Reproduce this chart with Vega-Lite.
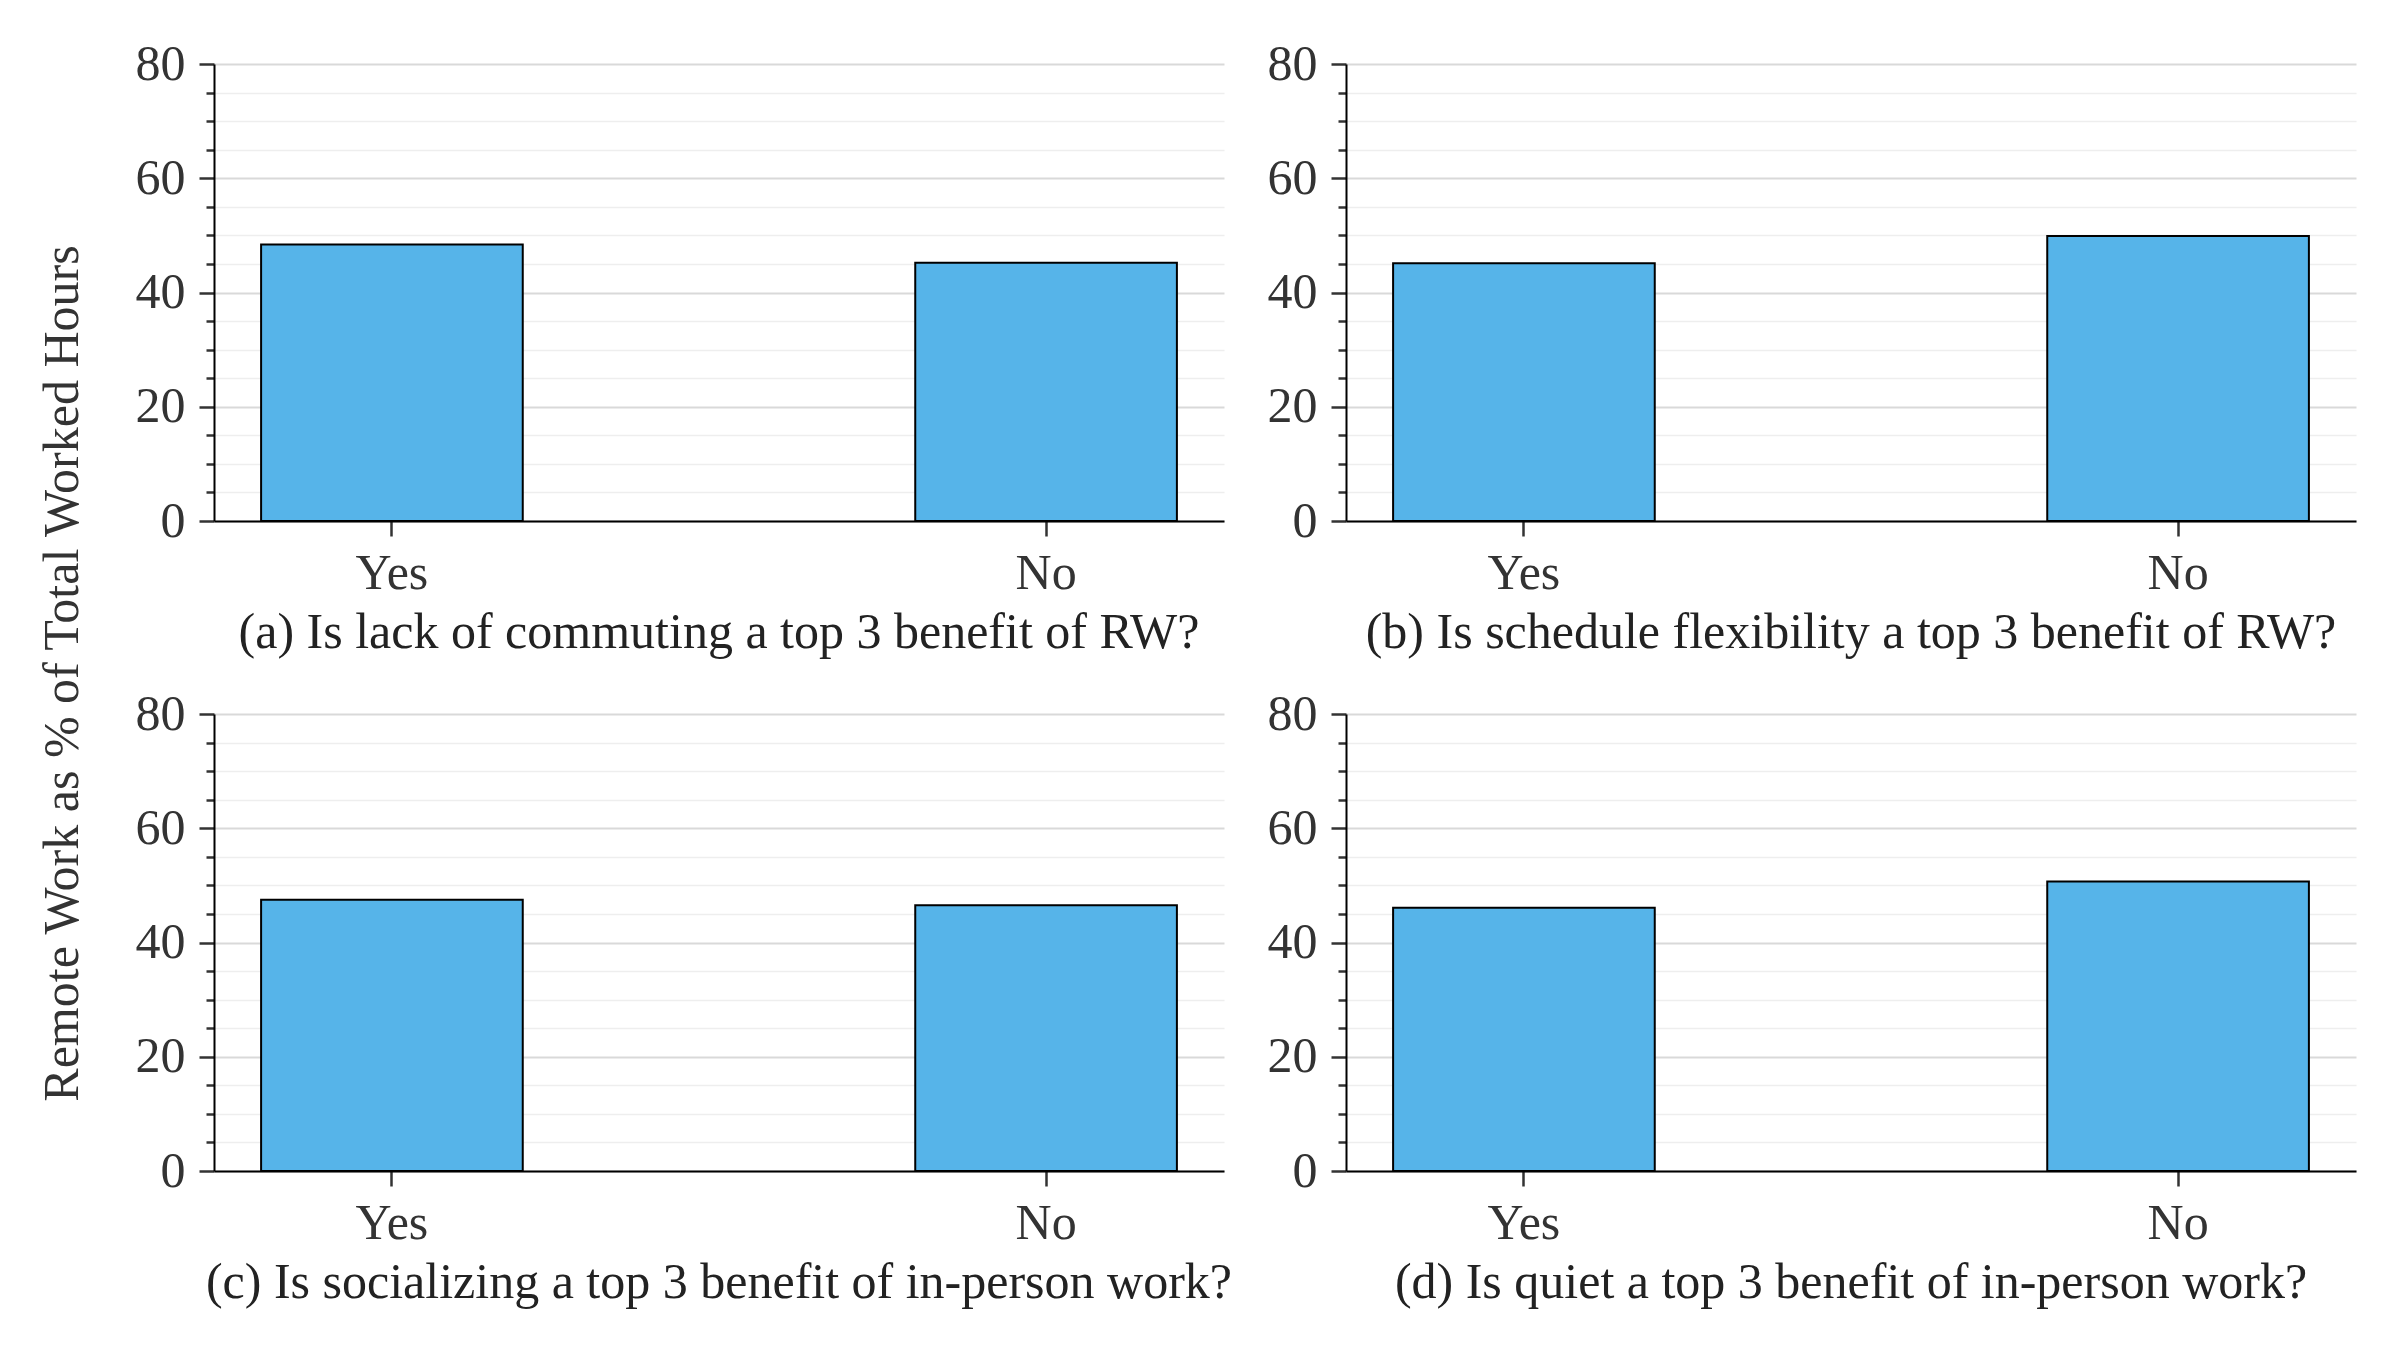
{
  "$schema": "https://vega.github.io/schema/vega-lite/v6.json",
  "background": "white",
  "padding": {"left": 37, "top": 39, "right": 30, "bottom": 30},
  "title": {
    "text": "Remote Work as % of Total Worked Hours",
    "orient": "left",
    "anchor": "middle",
    "fontSize": 50,
    "font": "Liberation Serif",
    "fontWeight": "normal",
    "color": "#333333",
    "offset": 47
  },
  "data": {
    "values": [
      {"panel": "a", "answer": "Yes", "pct": 48.4},
      {"panel": "a", "answer": "No", "pct": 45.2},
      {"panel": "b", "answer": "Yes", "pct": 45.1},
      {"panel": "b", "answer": "No", "pct": 49.9},
      {"panel": "c", "answer": "Yes", "pct": 47.5},
      {"panel": "c", "answer": "No", "pct": 46.5},
      {"panel": "d", "answer": "Yes", "pct": 46.1},
      {"panel": "d", "answer": "No", "pct": 50.7}
    ]
  },
  "columns": 2,
  "spacing": {"row": 31, "column": 34},
  "concat": [
    {
      "title": "(a) Is lack of commuting a top 3 benefit of RW?",
      "width": 1010,
      "height": 457,
      "transform": [{"filter": "datum.panel == 'a'"}],
      "mark": {"type": "bar", "color": "#56B4E9", "stroke": "black", "strokeWidth": 2},
      "encoding": {
        "x": {"field": "answer", "type": "nominal", "sort": ["Yes", "No"], "scale": {"paddingInner": 0.6, "paddingOuter": 0.072}},
        "y": {"field": "pct", "type": "quantitative", "scale": {"domain": [0, 80], "nice": false}}
      }
    },
    {
      "title": "(b) Is schedule flexibility a top 3 benefit of RW?",
      "width": 1010,
      "height": 457,
      "transform": [{"filter": "datum.panel == 'b'"}],
      "mark": {"type": "bar", "color": "#56B4E9", "stroke": "black", "strokeWidth": 2},
      "encoding": {
        "x": {"field": "answer", "type": "nominal", "sort": ["Yes", "No"], "scale": {"paddingInner": 0.6, "paddingOuter": 0.072}},
        "y": {"field": "pct", "type": "quantitative", "scale": {"domain": [0, 80], "nice": false}}
      }
    },
    {
      "title": "(c) Is socializing a top 3 benefit of in-person work?",
      "width": 1010,
      "height": 457,
      "transform": [{"filter": "datum.panel == 'c'"}],
      "mark": {"type": "bar", "color": "#56B4E9", "stroke": "black", "strokeWidth": 2},
      "encoding": {
        "x": {"field": "answer", "type": "nominal", "sort": ["Yes", "No"], "scale": {"paddingInner": 0.6, "paddingOuter": 0.072}},
        "y": {"field": "pct", "type": "quantitative", "scale": {"domain": [0, 80], "nice": false}}
      }
    },
    {
      "title": "(d) Is quiet a top 3 benefit of in-person work?",
      "width": 1010,
      "height": 457,
      "transform": [{"filter": "datum.panel == 'd'"}],
      "mark": {"type": "bar", "color": "#56B4E9", "stroke": "black", "strokeWidth": 2},
      "encoding": {
        "x": {"field": "answer", "type": "nominal", "sort": ["Yes", "No"], "scale": {"paddingInner": 0.6, "paddingOuter": 0.072}},
        "y": {"field": "pct", "type": "quantitative", "scale": {"domain": [0, 80], "nice": false}}
      }
    }
  ],
  "config": {
    "font": "Liberation Serif",
    "view": {"stroke": null},
    "title": {"font": "Liberation Serif", "fontSize": 50, "fontWeight": "normal", "color": "#222222", "orient": "bottom", "offset": 10},
    "axis": {
      "labelFont": "Liberation Serif",
      "labelFontSize": 50,
      "labelColor": "#333333",
      "domainColor": "black",
      "domainWidth": 2,
      "tickColor": "#333333",
      "tickWidth": 2.5,
      "title": null
    },
    "axisX": {"labelAngle": 0, "tickSize": 15, "labelPadding": 12, "grid": false},
    "axisY": {
      "values": [0, 5, 10, 15, 20, 25, 30, 35, 40, 45, 50, 55, 60, 65, 70, 75, 80],
      "labelExpr": "datum.value % 20 === 0 ? datum.label : ''",
      "tickSize": {"condition": {"test": "datum.value % 20 === 0", "value": 15}, "value": 8},
      "labelPadding": 14,
      "grid": true,
      "gridColor": {"condition": {"test": "datum.value % 20 === 0", "value": "#d9d9d9"}, "value": "#eeeeee"},
      "gridWidth": {"condition": {"test": "datum.value % 20 === 0", "value": 2}, "value": 1.5}
    }
  }
}
